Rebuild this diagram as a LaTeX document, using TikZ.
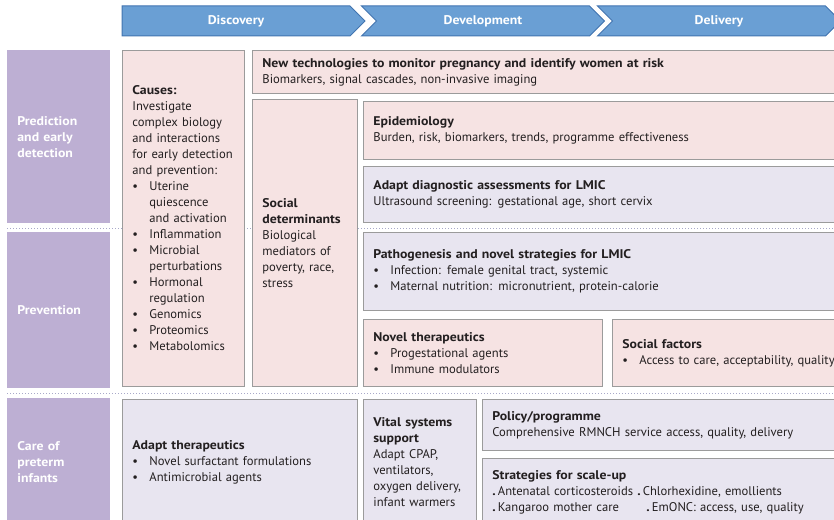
\documentclass[tikz,border=0pt]{standalone}
\usepackage{fontspec}
\setmainfont{PT Sans}[BoldFeatures={FakeStretch=1.095}]
\usetikzlibrary{positioning,shapes.symbols}

\definecolor{stageblue}{HTML}{6A9FD4}
\definecolor{stageedge}{HTML}{4274B0}
\definecolor{rowpurple}{HTML}{BDAFD3}
\definecolor{boxpink}{HTML}{F6E3E3}
\definecolor{boxlilac}{HTML}{E8E5F0}
\definecolor{boxedge}{HTML}{9B9B9B}
\definecolor{dotline}{HTML}{A9A9C9}
\definecolor{textdark}{HTML}{231F20}

\newcommand{\bul}[1]{\makebox[17pt][l]{\textbullet}#1}
\newcommand{\cnt}[1]{\hspace*{17pt}#1}
\newcommand{\dt}{\textbf{.}\,}

\begin{document}
\begin{tikzpicture}[x=1pt, y=-1pt,
  font=\fontsize{12.6}{16}\selectfont,
  box/.style = {draw=boxedge, line width=0.8pt, anchor=north west, align=left,
                inner xsep=10pt, inner ysep=0pt, text=textdark},
  pinkbox/.style = {box, fill=boxpink},
  lilacbox/.style = {box, fill=boxlilac},
  rowlabel/.style = {box, draw=none, fill=rowpurple, text=white, text width=83pt,
                     font=\fontsize{12.6}{16}\selectfont\bfseries},
  stage/.style = {signal, signal to=east, draw=stageedge, line width=1pt, fill=stageblue,
                  text=white, font=\fontsize{12.6}{14}\selectfont\bfseries,
                  minimum height=30pt, minimum width=243pt, inner sep=0pt},
  rowsep/.style = {dotline, line width=1pt, dotted}
    ]
  \useasboundingbox (0,0) rectangle (834,519);
  \clip (0,0) rectangle (834,519);

  % stages
  \node[stage] (discovery) at (236,21) {Discovery};
  \node[stage, signal from=west] (development) at (483,21) {Development};
  \node[stage, signal from=west] (delivery) at (719,21) {Delivery};

  % row separators
  \draw[rowsep] (7,228) -- (834,228);
  \draw[rowsep] (7,393) -- (834,393);

  % rows
  \node[rowlabel, minimum height=173pt] (prediction) at (7,50) {Prediction\\and early\\detection};
  \node[rowlabel, minimum height=156pt] (prevention) at (7,232) {Prevention};
  \node[rowlabel, minimum height=127pt] (care) at (7,398) {Care of\\preterm\\infants};

  % discovery column
  \node[pinkbox, text width=102pt, minimum height=336pt] (causes) at (122,50)
    {\textbf{Causes:}\\Investigate\\\mbox{complex biology}\\\mbox{and interactions}\\\mbox{for early detection}\\\mbox{and prevention:}\\
     \bul{Uterine}\\\cnt{quiescence}\\\cnt{\mbox{and activation}}\\\bul{Inflammation}\\\bul{Microbial}\\
     \cnt{perturbations}\\\bul{Hormonal}\\\cnt{regulation}\\\bul{Genomics}\\\bul{Proteomics}\\\bul{Metabolomics}};
  \node[pinkbox, text width=570pt, minimum height=43pt] (newtech) at (252,50)
    {\textbf{New technologies to monitor pregnancy and identify women at risk}\\Biomarkers, signal cascades, non-invasive imaging};
  \node[pinkbox, text width=85pt, minimum height=287pt] (socialdet) at (252,99)
    {\textbf{Social}\\\textbf{determinants}\\Biological\\\mbox{mediators of}\\\mbox{poverty, race,}\\stress};

  % development and delivery
  \node[pinkbox, text width=460pt, minimum height=58pt] (epidemiology) at (363,101)
    {\textbf{Epidemiology}\\Burden, risk, biomarkers, trends, programme effectiveness};
  \node[lilacbox, text width=460pt, minimum height=56pt] (diagnostic) at (363,166)
    {\textbf{Adapt diagnostic assessments for LMIC}\\Ultrasound screening: gestational age, short cervix};
  \node[lilacbox, text width=460pt, minimum height=78pt] (pathogenesis) at (363,232)
    {\textbf{Pathogenesis and novel strategies for LMIC}\\\bul{Infection: female genital tract, systemic}\\
     \bul{Maternal nutrition: micronutrient, protein-calorie}};
  \node[pinkbox, text width=219pt, minimum height=67pt] (noveltherapeutics) at (363,319)
    {\textbf{Novel therapeutics}\\\bul{Progestational agents}\\\bul{Immune modulators}};
  \node[pinkbox, text width=240pt, minimum height=67pt] (socialfactors) at (612,319)
    {\textbf{Social factors}\\\bul{Access to care, acceptability, quality}};

  % care of preterm infants
  \node[lilacbox, text width=215pt, minimum height=126pt] (adapttherapeutics) at (122,399)
    {\textbf{Adapt therapeutics}\\\bul{Novel surfactant formulations}\\\bul{Antimicrobial agents}};
  \node[lilacbox, text width=93pt, minimum height=126pt] (vital) at (363,399)
    {\textbf{Vital systems}\\\textbf{support}\\\mbox{Adapt CPAP,}\\ventilators,\\\mbox{oxygen delivery,}\\\mbox{infant warmers}};
  \node[lilacbox, text width=340pt, minimum height=51pt] (policy) at (482,399)
    {\textbf{Policy/programme}\\Comprehensive RMNCH service access, quality, delivery};
  \node[lilacbox, text width=340pt, minimum height=67pt] (scaleup) at (482,458)
    {\textbf{Strategies for scale-up}\\\dt Antenatal corticosteroids \dt Chlorhexidine, emollients\\
     \makebox[154pt][l]{\dt Kangaroo mother care}\dt EmONC: access, use, quality};
\end{tikzpicture}
\end{document}
